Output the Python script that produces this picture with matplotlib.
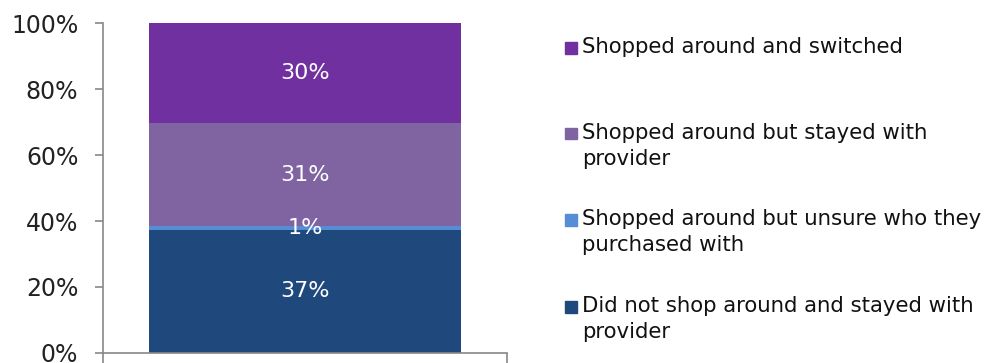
import matplotlib
matplotlib.use("Agg")
import matplotlib.pyplot as plt
from matplotlib.patches import Rectangle
from matplotlib.ticker import PercentFormatter

# survey shares, bottom to top of the stack
labels = [
    "Did not shop around and stayed with\nprovider",
    "Shopped around but unsure who they\npurchased with",
    "Shopped around but stayed with\nprovider",
    "Shopped around and switched",
]
values = [37, 1, 31, 30]
colors = ["#1F497D", "#558ED5", "#8064A2", "#7030A0"]
yticks = [0, 20, 40, 60, 80, 100]

plt.rcParams["font.family"] = ["DejaVu Sans"]

fig = plt.figure(figsize=(9.92, 3.63), dpi=100)
ax = fig.add_axes([103 / 992, 10 / 363, 404 / 992, 330 / 363])

# 100% stacked column
total = sum(values)
bottom = 0.0
for v, c in zip(values, colors):
    h = v / total * 100
    ax.bar(0.5, h, width=0.772, bottom=bottom, color=c, linewidth=0)
    ax.text(0.5, bottom + h / 2, f"{v}%", ha="center", va="center",
            color="white", fontsize=16)
    bottom += h

ax.set_xlim(0, 1)
ax.set_ylim(0, 100)
ax.set_yticks(yticks)
ax.yaxis.set_major_formatter(PercentFormatter(decimals=0))
ax.set_xticks([0, 1])
ax.set_xticklabels([])
for s in ("top", "right"):
    ax.spines[s].set_visible(False)
for s in ("left", "bottom"):
    ax.spines[s].set_color("#888888")
    ax.spines[s].set_linewidth(1.2)
ax.tick_params(axis="y", length=5.8, width=1.2, color="#888888",
               labelsize=17, labelcolor="#222222", pad=12)
ax.tick_params(axis="x", length=8, width=1.2, color="#888888")

# legend, top entry first; one text per line so both lines sit 26 px apart
ypos = [48, 134, 220, 307]
for lab, c, yp in zip(labels[::-1], colors[::-1], ypos):
    y = 1 - yp / 363
    fig.patches.append(Rectangle((565 / 992, y - 5.5 / 363), 12 / 992, 11.5 / 363,
                                 transform=fig.transFigure, color=c))
    for i, line in enumerate(lab.split("\n")):
        fig.text(582 / 992, y - (i * 26 - 1) / 363, line, ha="left",
                 va="center", fontsize=15.3, color="#111111")

fig.savefig("out.png", dpi=100)
